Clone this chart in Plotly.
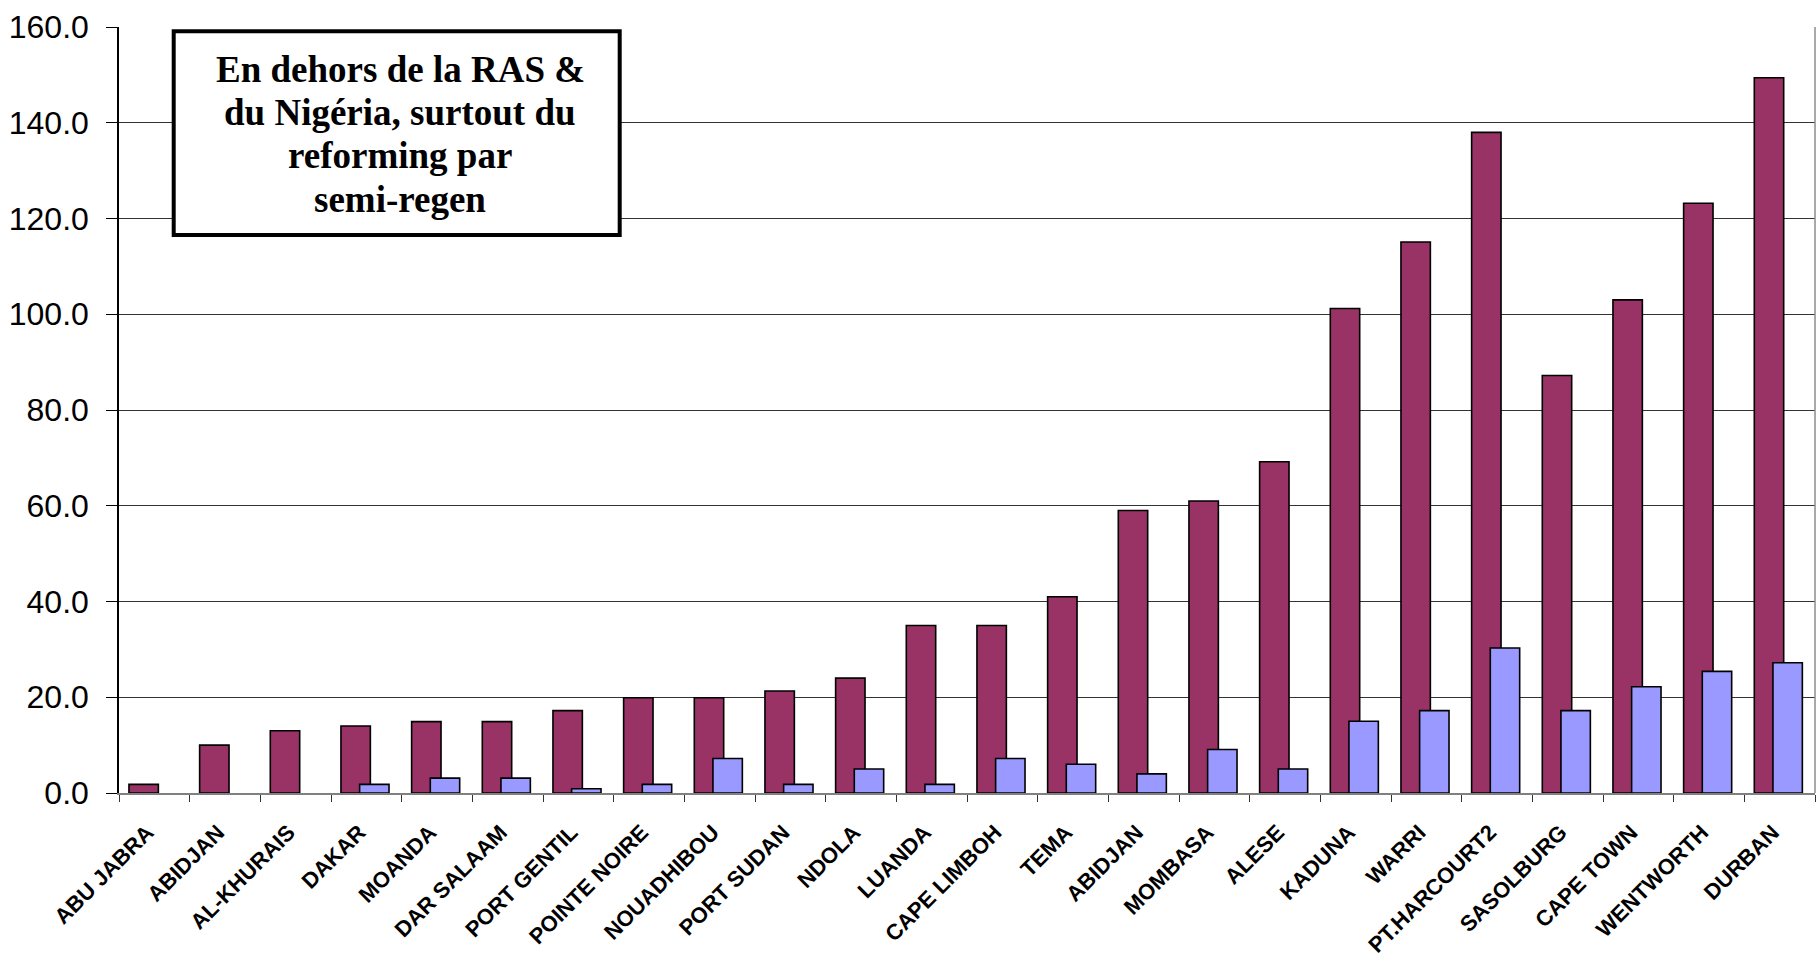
import plotly.graph_objects as go

categories = ["ABU JABRA", "ABIDJAN", "AL-KHURAIS", "DAKAR", "MOANDA", "DAR SALAAM",
              "PORT GENTIL", "POINTE NOIRE", "NOUADHIBOU", "PORT SUDAN", "NDOLA", "LUANDA",
              "CAPE LIMBOH", "TEMA", "ABIDJAN", "MOMBASA", "ALESE", "KADUNA", "WARRI",
              "PT.HARCOURT2", "SASOLBURG", "CAPE TOWN", "WENTWORTH", "DURBAN"]
series_a = [1.8, 10.0, 13.0, 14.0, 14.9, 14.9, 17.2, 19.9, 19.9, 21.3, 24.0, 35.0,
            35.0, 41.0, 59.0, 61.0, 69.2, 101.2, 115.1, 138.0, 87.2, 103.0, 123.2, 149.4]
series_b = [0.0, 0.0, 0.0, 1.8, 3.1, 3.1, 0.9, 1.8, 7.2, 1.8, 5.0, 1.8,
            7.2, 6.0, 4.0, 9.1, 5.0, 15.0, 17.2, 30.3, 17.2, 22.2, 25.4, 27.2]
y_ticks = [0, 20, 40, 60, 80, 100, 120, 140, 160]
note_lines = ["En dehors de la RAS &", "du Nigéria, surtout du", "reforming par", "semi-regen"]

x = list(range(len(categories)))

W, H = 1817, 964
L, R, T, B = 119, 2, 27, 171
PW, PH = W - L - R, H - T - B

def px_x(p):
    return (p - L) / PW

def px_y(p):
    return (H - B - p) / PH

def outline(vals):
    return [0 if v == 0 else 1.6 for v in vals]

fig = go.Figure()
fig.add_trace(go.Bar(x=x, y=series_a, width=0.416, offset=-0.359,
                     marker=dict(color="#993366",
                                 line=dict(color="black", width=outline(series_a))),
                     showlegend=False))
fig.add_trace(go.Bar(x=x, y=series_b, width=0.416, offset=-0.095,
                     marker=dict(color="#9999FF",
                                 line=dict(color="black", width=outline(series_b))),
                     showlegend=False))

fig.update_layout(
    width=W, height=H,
    margin=dict(l=L, r=R, t=T, b=B, pad=0),
    paper_bgcolor="white", plot_bgcolor="white",
    barmode="overlay",
    font=dict(family="Liberation Sans, Arial", color="black"),
)

fig.update_xaxes(
    range=[-0.5, len(categories) - 0.5],
    tickmode="array", tickvals=[v - 0.1 for v in x], ticktext=categories,
    tickangle=-45, ticks="",
    tickfont=dict(family="Liberation Sans, Arial", size=22, weight="bold", color="black"),
    ticklabelstandoff=16,
    showline=True, linecolor="#808080", linewidth=1.5,
    showgrid=False, zeroline=False,
    minor=dict(tickmode="linear", tick0=-0.5, dtick=1, ticks="outside",
               ticklen=7, tickwidth=1.3, tickcolor="#333333", showgrid=False),
)

fig.update_yaxes(
    range=[0, 160], tickmode="array", tickvals=y_ticks,
    ticktext=[f"{v:.1f}" for v in y_ticks],
    ticks="outside", ticklen=11, tickwidth=1.3, tickcolor="black",
    tickfont=dict(family="Liberation Sans, Arial", size=32, color="black"),
    ticklabelstandoff=11,
    showline=True, linecolor="black", linewidth=1.5,
    showgrid=True, gridcolor="#333333", gridwidth=1.2,
    zeroline=False,
)

# right border of plot area
fig.add_shape(type="line", xref="paper", yref="paper", x0=1, x1=1, y0=0, y1=1,
              line=dict(color="#8c8c8c", width=1.5))

# text box
fig.add_shape(type="rect", xref="paper", yref="paper",
              x0=px_x(173.7), x1=px_x(619.7), y0=px_y(235), y1=px_y(31.3),
              line=dict(color="black", width=4), fillcolor="white", layer="above")

baselines = [81.7, 125.0, 167.7, 211.7]
fs = 37
for txt, bl in zip(note_lines, baselines):
    fig.add_annotation(xref="paper", yref="paper", x=px_x(400), y=px_y(bl - 0.33 * fs),
                       text=txt, showarrow=False, xanchor="center", yanchor="middle",
                       font=dict(family="Liberation Serif, Times New Roman", size=fs,
                                 weight="bold", color="black"))

fig.write_html("out.html", config={"displayModeBar": False},
               post_script="document.body.style.margin='0';"
               "document.body.style.padding='0';document.body.style.overflow='hidden';")
